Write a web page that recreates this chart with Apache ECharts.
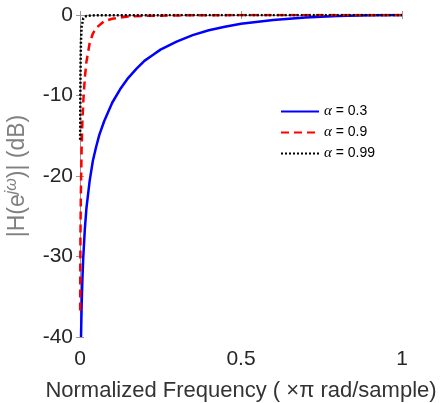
<!DOCTYPE html>
<html>
<head>
<meta charset="utf-8">
<script src="https://cdn.jsdelivr.net/npm/echarts@6/dist/echarts.min.js"></script>
<style>
  html, body { margin: 0; padding: 0; background: #fff; }
  #chart { width: 448px; height: 403px; }
</style>
</head>
<body>
<div id="chart"></div>
<script>
// values (normalized freq, magnitude in dB)
const blueFreq = [0.0032, 0.005, 0.0075, 0.01, 0.015, 0.02, 0.03, 0.04, 0.05, 0.06, 0.075, 0.1, 0.125, 0.15, 0.175, 0.2, 0.225, 0.25, 0.3, 0.35, 0.4, 0.45, 0.5, 0.6, 0.7, 0.75, 0.8, 0.9, 1];
const blueDb = [-40, -36.2, -32.8, -30.2, -26.6, -24.0, -20.6, -18.1, -16.4, -14.9, -13.2, -10.9, -9.2, -7.8, -6.7, -5.7, -5.0, -4.3, -3.3, -2.5, -1.9, -1.45, -1.1, -0.62, -0.32, -0.21, -0.13, -0.03, 0];

const redFreq = [0.00049, 0.00098, 0.0015, 0.0025, 0.005, 0.0075, 0.01, 0.015, 0.02, 0.03, 0.04, 0.05, 0.075, 0.1, 0.15, 0.2, 0.3, 0.5, 1];
const redDb = [-36.7, -30.7, -27.0, -22.6, -16.6, -13.2, -10.9, -7.8, -5.8, -3.5, -2.3, -1.6, -0.78, -0.46, -0.2, -0.11, -0.05, -0.01, 0];

const blackFreq = [0.00049, 0.00098, 0.00146, 0.00195, 0.0029, 0.0049, 0.01, 0.02, 0.05, 1];
const blackDb = [-15.5, -10.7, -7.6, -5.7, -3.4, -1.5, -0.42, -0.11, -0.02, 0];

const xTicks = [0, 0.5, 1];
const yTicks = [-40, -30, -20, -10, 0];

const names = ['α = 0.3', 'α = 0.9', 'α = 0.99'];

const zip = (xs, ys) => xs.map((x, i) => [x, ys[i]]);

const font = 'Liberation Sans, Arial, sans-serif';
const boxColor = '#9a9a9a';

const myChart = echarts.init(document.getElementById('chart'));

myChart.setOption({
  animation: false,
  backgroundColor: '#fff',
  grid: { left: 80, right: 46, top: 15, bottom: 66, outerBoundsMode: 'none' },
  legend: {
    left: 280, top: 104, padding: 0,
    orient: 'vertical',
    itemWidth: 38, itemHeight: 14, itemGap: 6,
    data: names,
    itemStyle: { opacity: 0 },
    formatter: function (name) { return '{g|α}' + name.slice(1); },
    textStyle: {
      fontFamily: font, fontSize: 14, color: '#000',
      rich: { g: { fontFamily: 'Liberation Serif, serif', fontStyle: 'italic', fontSize: 15, color: '#000' } }
    }
  },
  xAxis: [{
    type: 'value',
    min: xTicks[0], max: xTicks[xTicks.length - 1], interval: xTicks[1] - xTicks[0],
    name: 'Normalized Frequency ( ×π rad/sample)',
    nameLocation: 'middle', nameGap: 43,
    nameTextStyle: { fontFamily: font, fontSize: 22, color: '#333' },
    axisLine: { show: true, lineStyle: { color: boxColor, width: 1 } },
    axisTick: { show: true, inside: true, length: 4, lineStyle: { color: boxColor } },
    axisLabel: { fontFamily: font, fontSize: 21, color: '#262626', margin: 12 },
    splitLine: { show: false }
  }, {
    type: 'value', position: 'top',
    min: xTicks[0], max: xTicks[xTicks.length - 1], interval: xTicks[1] - xTicks[0],
    axisLine: { show: true, lineStyle: { color: boxColor, width: 1 } },
    axisTick: { show: true, inside: true, length: 4, lineStyle: { color: boxColor } },
    axisLabel: { show: false },
    splitLine: { show: false }
  }],
  yAxis: [{
    type: 'value',
    min: yTicks[0], max: yTicks[yTicks.length - 1], interval: yTicks[1] - yTicks[0],
    name: '|H(e{s|jω})| (dB)',
    nameLocation: 'middle', nameGap: 46,
    nameTextStyle: {
      fontFamily: font, fontSize: 23, color: '#808080', lineHeight: 28,
      rich: { s: { fontFamily: font, fontSize: 16, fontStyle: 'italic', color: '#808080', verticalAlign: 'top', lineHeight: 28 } }
    },
    axisLine: { show: true, lineStyle: { color: boxColor, width: 1 } },
    axisTick: { show: true, inside: true, length: 4, lineStyle: { color: boxColor } },
    axisLabel: { fontFamily: font, fontSize: 21, color: '#262626', margin: 7 },
    splitLine: { show: false }
  }, {
    type: 'value', position: 'right',
    min: yTicks[0], max: yTicks[yTicks.length - 1], interval: yTicks[1] - yTicks[0],
    axisLine: { show: true, lineStyle: { color: boxColor, width: 1 } },
    axisTick: { show: true, inside: true, length: 4, lineStyle: { color: boxColor } },
    axisLabel: { show: false },
    splitLine: { show: false }
  }],
  series: [
    {
      name: names[0], type: 'line', symbol: 'none', clip: true,
      data: zip(blueFreq, blueDb),
      lineStyle: { color: '#0000ff', width: 2.5 },
      itemStyle: { color: '#0000ff' }
    },
    {
      name: names[1], type: 'line', symbol: 'none', clip: true,
      data: zip(redFreq, redDb),
      lineStyle: { color: '#ff0000', width: 2.5, type: [8, 5] },
      itemStyle: { color: '#ff0000' }
    },
    {
      name: names[2], type: 'line', symbol: 'none', clip: true,
      data: zip(blackFreq, blackDb),
      lineStyle: { color: '#000000', width: 2.5, type: [2, 2] },
      itemStyle: { color: '#000000' }
    }
  ]
});
</script>
</body>
</html>
